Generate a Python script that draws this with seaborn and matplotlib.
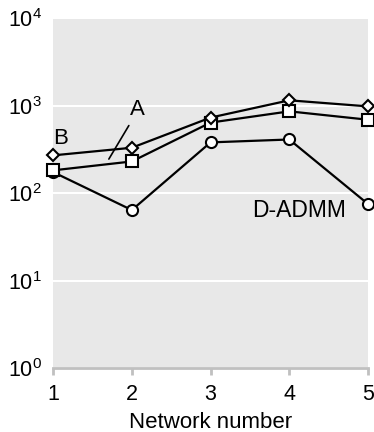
import numpy as np
import pandas as pd
import matplotlib
matplotlib.use("Agg")
import matplotlib.pyplot as plt
import seaborn as sns

networks = [1, 2, 3, 4, 5]
dadmm = [174, 64, 380, 410, 75]
alg_a = [182, 230, 640, 860, 690]
alg_b = [270, 330, 730, 1150, 980]

sns.set_theme(style="darkgrid", rc={"axes.facecolor": "#e8e8e8"})
plt.rcParams["font.family"] = ["Liberation Sans", "DejaVu Sans"]
plt.rcParams["text.color"] = "black"
plt.rcParams["axes.labelcolor"] = "black"

fig, ax = plt.subplots(figsize=(3.74, 4.32), dpi=100)

series = [("D-ADMM", dadmm, "o"), ("A", alg_a, "s"), ("B", alg_b, "D")]
for i, (name, vals, mk) in enumerate(series):
    df = pd.DataFrame({"net": networks, "val": vals})
    sns.lineplot(data=df, x="net", y="val", ax=ax, color="black", lw=1.6,
                 marker=mk, markersize=8 if mk != "D" else 6.5,
                 markerfacecolor="white", markeredgecolor="black",
                 markeredgewidth=1.5, zorder=3 + i, clip_on=False)

ax.set_yscale("log")
ax.set_ylim(1, 1e4)
ax.set_xlim(1, 5)
ax.set_xticks(networks)
ax.set_yticks([1, 10, 100, 1000, 10000])
ax.yaxis.set_minor_locator(matplotlib.ticker.NullLocator())
ax.grid(axis="x", visible=False)
ax.grid(axis="y", color="white", lw=1.5)
for s in ["top", "right", "left"]:
    ax.spines[s].set_visible(False)
ax.spines["bottom"].set_color("#c0c0c0")
ax.spines["bottom"].set_linewidth(2)
ax.tick_params(axis="x", bottom=True, length=5, width=2, color="#c0c0c0",
               labelsize=15.5, labelcolor="black", pad=6.5)
ax.tick_params(axis="y", left=False, labelsize=15.5, labelcolor="black", pad=2)
ax.set_xlabel("Network number", fontsize=16, labelpad=5)
ax.set_ylabel("")

ax.text(2.07, 900, "A", fontsize=16, ha="center", va="center")
ax.annotate("", xy=(1.69, 230), xytext=(1.98, 630),
            arrowprops=dict(arrowstyle="-", color="black", lw=1.2))
ax.text(1.09, 420, "B", fontsize=16, ha="center", va="center")
ax.text(4.12, 64, "D-ADMM", fontsize=16.5, ha="center", va="center")

fig.subplots_adjust(left=0.142, right=0.984, top=0.958, bottom=0.148)
fig.savefig("out.png", dpi=100)
